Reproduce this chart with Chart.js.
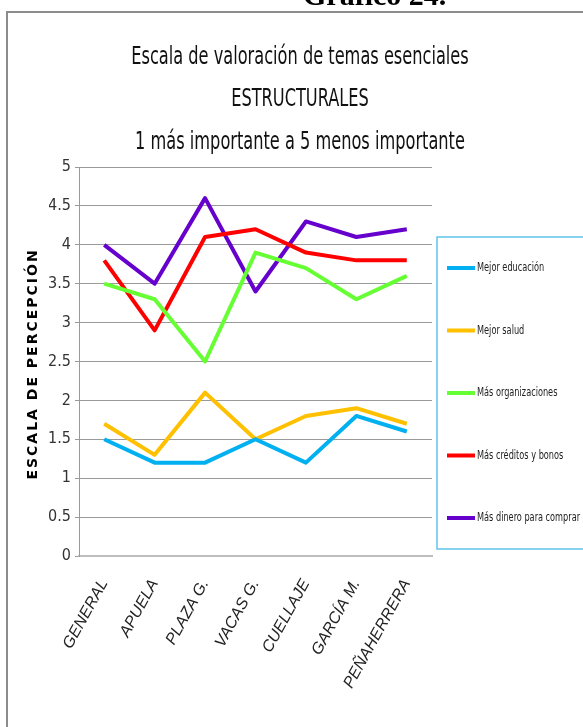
<!DOCTYPE html>
<html>
<head>
<meta charset="utf-8">
<script src="https://cdn.jsdelivr.net/npm/chart.js@4"></script>
<style>
  html, body { margin: 0; padding: 0; background: #fff; }
  canvas { display: block; }
</style>
</head>
<body>
<canvas id="chart" width="583" height="727"></canvas>
<script>
// ---- data ----
const parroquias = ['GENERAL', 'APUELA', 'PLAZA G.', 'VACAS G.', 'CUELLAJE', 'GARCÍA M.', 'PEÑAHERRERA'];

const mejorEducacion = [1.5, 1.2, 1.2, 1.5, 1.2, 1.8, 1.6];
const mejorSalud     = [1.7, 1.3, 2.1, 1.5, 1.8, 1.9, 1.7];
const masOrganizac   = [3.5, 3.3, 2.5, 3.9, 3.7, 3.3, 3.6];
const masCreditos    = [3.8, 2.9, 4.1, 4.2, 3.9, 3.8, 3.8];
const masDinero      = [4.0, 3.5, 4.6, 3.4, 4.3, 4.1, 4.2];

const seriesNames = ['Mejor educación', 'Mejor salud', 'Más organizaciones', 'Más créditos y bonos', 'Más dinero para comprar'];
const seriesColors = ['#00B0F0', '#FFC000', '#66FF33', '#FF0000', '#6600CC'];

const titleLines = ['Escala de valoración de temas esenciales', 'ESTRUCTURALES', '1 más importante a 5 menos importante'];
const yTitle = 'ESCALA DE PERCEPCIÓN';
const figureLabel = 'Gráfico 24.';

const NARROW = "'Liberation Sans Narrow', 'DejaVu Sans Condensed', 'Liberation Sans', sans-serif";

// draw text squeezed horizontally by sx around (x, y)
function squeezedText(ctx, text, x, y, sx) {
    ctx.save();
    ctx.translate(x, y);
    ctx.scale(sx, 1);
    ctx.fillText(text, 0, 0);
    ctx.restore();
}

// titles, frame, y-axis caption and the legend box are painted by hand
const decorations = {
    id: 'decorations',
    beforeDraw(chart) {
        const ctx = chart.ctx;
        ctx.save();
        // page frame
        ctx.strokeStyle = '#8c8c8c';
        ctx.lineWidth = 2;
        ctx.beginPath();
        ctx.moveTo(7, 727);
        ctx.lineTo(7, 12);
        ctx.lineTo(583, 12);
        ctx.stroke();

        // caption above the frame (cut by the page top)
        ctx.fillStyle = '#000';
        ctx.font = "bold 30px 'Liberation Serif', serif";
        ctx.textAlign = 'left';
        ctx.textBaseline = 'alphabetic';
        ctx.fillText(figureLabel, 303, 5);
        ctx.restore();
    },
    afterDraw(chart) {
        const ctx = chart.ctx;
        ctx.save();

        // chart title, three lines
        ctx.fillStyle = '#111';
        ctx.textAlign = 'center';
        ctx.textBaseline = 'middle';
        ctx.font = '24px ' + NARROW;
        const ys = [58, 100, 143];
        titleLines.forEach((t, i) => squeezedText(ctx, t, 300, ys[i], 0.75));

        // y axis caption
        ctx.save();
        ctx.translate(33, 364);
        ctx.rotate(-Math.PI / 2);
        ctx.font = "bold 14px 'DejaVu Sans', sans-serif";
        ctx.letterSpacing = '2px';
        ctx.fillStyle = '#000';
        ctx.fillText(yTitle, 0, 0);
        ctx.restore();

        // legend
        ctx.strokeStyle = '#5fc3ec';
        ctx.lineWidth = 1.5;
        ctx.strokeRect(437, 237, 170, 312);
        ctx.textAlign = 'left';
        ctx.font = '13px ' + NARROW;
        chart.data.datasets.forEach((ds, i) => {
            const y = 268 + i * 62.5;
            ctx.strokeStyle = ds.borderColor;
            ctx.lineWidth = 4;
            ctx.beginPath();
            ctx.moveTo(447, y);
            ctx.lineTo(475, y);
            ctx.stroke();
            ctx.fillStyle = '#222';
            squeezedText(ctx, ds.label, 477, y, 0.7);
        });
        ctx.restore();
    }
};

const allSeries = [mejorEducacion, mejorSalud, masOrganizac, masCreditos, masDinero];

new Chart(document.getElementById('chart'), {
    type: 'line',
    data: {
        labels: parroquias,
        datasets: allSeries.map((values, i) => ({
            label: seriesNames[i],
            data: values,
            borderColor: seriesColors[i],
            backgroundColor: seriesColors[i],
            borderWidth: 4,
            borderJoinStyle: 'round',
            tension: 0,
            pointRadius: 0,
            fill: false
        }))
    },
    options: {
        responsive: false,
        animation: false,
        layout: {
            padding: { left: 49, right: 151, top: 167, bottom: 11 }
        },
        plugins: {
            legend: { display: false },
            title: { display: false },
            tooltip: { enabled: false }
        },
        scales: {
            x: {
                offset: true,
                afterFit: (scale) => { scale.height = 160; },
                grid: { display: false },
                border: { display: true, color: '#bdbdbd', width: 2 },
                ticks: {
                    maxRotation: 61,
                    minRotation: 61,
                    padding: 12,
                    autoSkip: false,
                    color: '#222',
                    font: { family: "'Liberation Sans', sans-serif", size: 16, style: 'italic' }
                }
            },
            y: {
                min: 0,
                max: 5,
                afterFit: (scale) => { scale.width = 30; },
                grid: { color: '#9a9a9a', lineWidth: 1, tickLength: 4 },
                border: { display: true, color: '#9a9a9a', width: 1 },
                ticks: {
                    stepSize: 0.5,
                    padding: 4,
                    color: '#333',
                    font: { family: NARROW, size: 16 },
                    callback: (v) => String(v)
                }
            }
        }
    },
    plugins: [decorations]
});
</script>
</body>
</html>
